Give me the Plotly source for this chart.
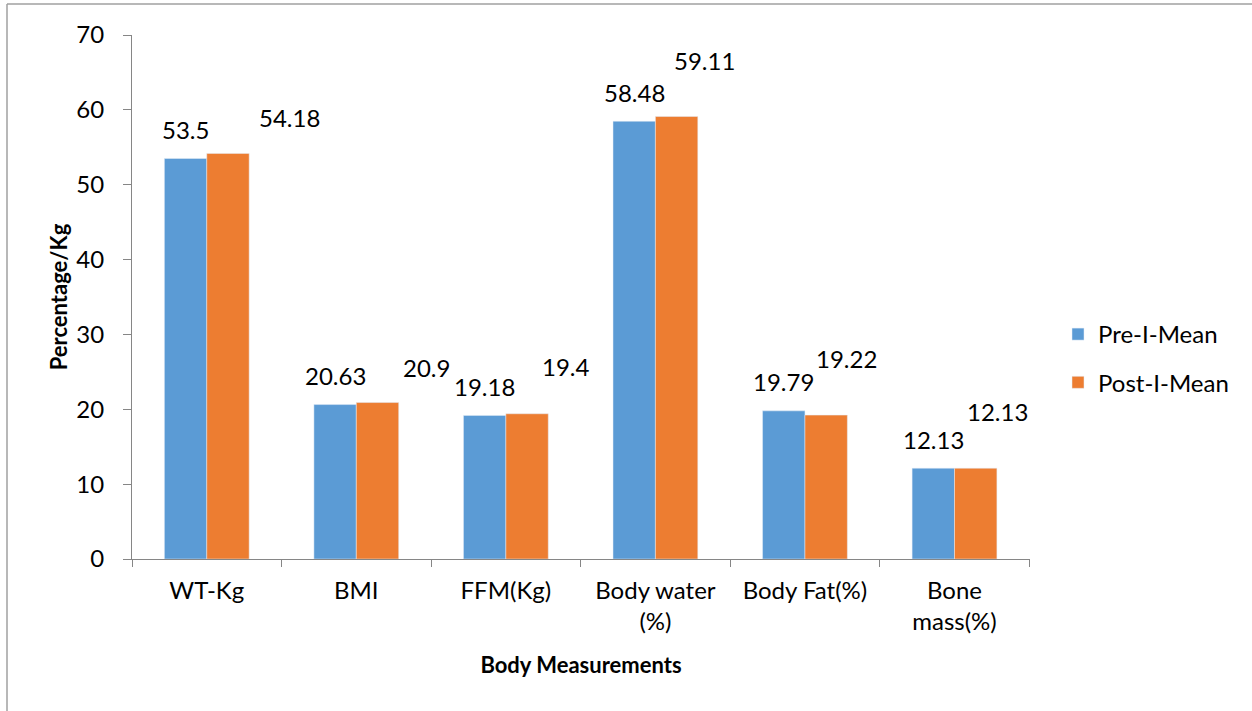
import plotly.graph_objects as go

categories = ["WT-Kg", "BMI", "FFM(Kg)", "Body water<br>(%)", "Body Fat(%)", "Bone<br>mass(%)"]
pre_mean = [53.5, 20.63, 19.18, 58.48, 19.79, 12.13]
post_mean = [54.18, 20.9, 19.4, 59.11, 19.22, 12.13]
pre_labels = ["53.5", "20.63", "19.18", "58.48", "19.79", "12.13"]
post_labels = ["54.18", "20.9", "19.4", "59.11", "19.22", "12.13"]

# label offsets (pixels) as placed in the original chart
post_xshift = [62, 49, 39, 28, 21, 22]
post_yshift = [36, 35, 47, 56, 57, 57]

FONT = "Lato"
FS = 24
BLUE = "#5B9BD5"
ORANGE = "#ED7D31"
AX = "#868686"

fig = go.Figure()
fig.add_trace(go.Bar(x=categories, y=pre_mean, name="Pre-I-Mean", marker_color=BLUE,
                     legendgroup="a"))
fig.add_trace(go.Bar(x=categories, y=post_mean, name="Post-I-Mean", marker_color=ORANGE,
                     legendgroup="b"))

for i, c in enumerate(categories):
    fig.add_annotation(x=c, y=pre_mean[i], text=pre_labels[i], showarrow=False,
                       xref="x", yref="y", xshift=-21, yshift=29,
                       font=dict(family=FONT, size=FS, color="black"))
    fig.add_annotation(x=c, y=post_mean[i], text=post_labels[i], showarrow=False,
                       xref="x", yref="y", xshift=21 + post_xshift[i], yshift=post_yshift[i],
                       font=dict(family=FONT, size=FS, color="black"))

W, H = 1252, 711
L, R, T, B = 132, 222, 35, 152
pw, ph = W - L - R, H - T - B

def px(x):
    return (x - L) / pw

def py(y):
    return (H - B - y) / ph

fig.add_shape(type="line", xref="paper", yref="paper", x0=px(7), x1=px(1252), y0=py(4), y1=py(4),
              line=dict(color="#A0A0A0", width=1.5))
fig.add_shape(type="line", xref="paper", yref="paper", x0=px(7), x1=px(7), y0=py(4), y1=py(711),
              line=dict(color="#A0A0A0", width=1.5))

fig.update_layout(
    width=W, height=H,
    margin=dict(l=L, r=R, t=T, b=B, autoexpand=False),
    paper_bgcolor="white", plot_bgcolor="white",
    barmode="group", bargap=0.433, bargroupgap=0,
    font=dict(family=FONT, size=FS, color="black"),
    showlegend=True,
    legend=dict(x=px(1058), y=py(312), xanchor="left", yanchor="top",
                font=dict(family=FONT, size=FS), tracegroupgap=14,
                bgcolor="rgba(0,0,0,0)"),
    xaxis=dict(
        showline=True, linecolor=AX, linewidth=1,
        ticks="outside", tickson="boundaries", ticklen=7, tickcolor=AX,
        showgrid=False, tickfont=dict(family=FONT, size=FS), ticklabelstandoff=10,
        title=dict(text="<b>Body Measurements</b>", font=dict(family=FONT, size=22), standoff=23),
    ),
    yaxis=dict(
        range=[0, 70], dtick=10, showline=True, linecolor=AX, linewidth=1,
        ticks="outside", ticklen=8, tickcolor=AX, showgrid=False,
        tickfont=dict(family=FONT, size=FS), ticklabelstandoff=14,
        title=dict(text="<b>Percentage/Kg</b>", font=dict(family=FONT, size=22), standoff=2),
    ),
)

fig.write_html("out.html", config={"displayModeBar": False},
               post_script="document.body.style.margin='0';document.body.style.overflow='hidden';")
